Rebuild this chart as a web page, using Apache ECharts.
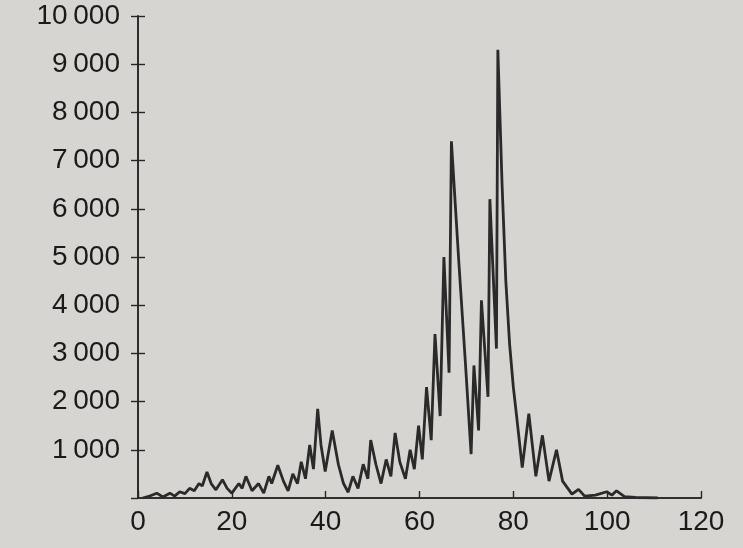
<!DOCTYPE html>
<html lang="en">
<head>
    <meta charset="UTF-8">
    <title>chart</title>
    <style>
        html, body { margin: 0; padding: 0; background: #d7d5d1; }
        div#container { width: 743px; height: 548px; }
    </style>
</head>
<body>
    <div id="container"></div>
    <script src="https://cdn.jsdelivr.net/npm/echarts@6/dist/echarts.min.js"></script>
    <script>
        // x positions and values
        var xs = [
            1, 2.5, 4, 5.3, 6.8, 7.8, 8.9, 10, 11, 12,
            13, 13.7, 14.7, 15.6, 16.6, 18, 19, 20, 21.5, 22.2,
            23, 24.3, 25.7, 26.8, 27.9, 28.5, 29.8, 31, 32, 33,
            34, 34.8, 35.7, 36.6, 37.4, 38.3, 39, 39.9, 41.4, 42.7,
            43.8, 44.8, 45.8, 46.9, 48, 49, 49.6, 50.7, 51.8, 52.9,
            53.9, 54.8, 55.8, 57, 58, 58.9, 59.8, 60.6, 61.5, 62.5,
            63.3, 64.4, 65.2, 66.3, 66.8, 68.4, 69.8, 71, 71.6, 72.6,
            73.2, 74.6, 75, 76.4, 76.7, 77.6, 78.4, 79.2, 80, 80.7,
            81.9, 83.3, 84.8, 86.2, 87.6, 89.2, 90.5, 92.5, 93.9,
            95.2, 97.5, 99.9, 101, 102, 103.7, 106, 110.8
        ];
        var values = [
            0, 40, 100, 20, 100, 40, 130, 90, 200, 150,
            300, 250, 540, 300, 170, 380, 200, 100, 300, 200,
            450, 150, 300, 100, 450, 300, 680, 350, 150, 500,
            300, 750, 400, 1100, 600, 1850, 1100, 550, 1400, 700,
            300, 120, 450, 200, 700, 400, 1200, 700, 300, 800,
            450, 1350, 750, 400, 1000, 600, 1500, 800, 2300, 1200,
            3400, 1700, 5000, 2600, 7400, 4870, 2780, 910, 2750, 1400,
            4100, 2100, 6200, 3100, 9300, 6500, 4500, 3200, 2300, 1700,
            630, 1750, 450, 1300, 350, 1000, 350, 80, 180,
            40, 60, 130, 60, 150, 30, 10, 0
        ];
        var yTicks = [0, 10000, 1000];
        var xTicks = [0, 120, 20];

        var points = xs.map(function (x, i) { return [x, values[i]]; });

        function fmt(v) {
            if (v < 1000) return String(v);
            return Math.floor(v / 1000) + '\u2009000';
        }

        var ink = '#262626';
        var chart = echarts.init(document.getElementById('container'));
        var options = {
            backgroundColor: '#d7d5d1',
            animation: false,
            grid: { left: 138, right: 42, top: 16, bottom: 50 },
            xAxis: [{
                type: 'value',
                min: xTicks[0], max: xTicks[1], interval: xTicks[2],
                axisLine: { show: true, lineStyle: { color: ink, width: 1.6 } },
                axisTick: { show: true, inside: true, length: 7, lineStyle: { color: ink, width: 1.4 } },
                axisLabel: { color: '#1a1a1a', fontSize: 28, fontFamily: 'Liberation Sans', margin: 10 },
                splitLine: { show: false }
            }, {
                type: 'value', position: 'top',
                min: xTicks[0], max: xTicks[1], interval: xTicks[2],
                axisLine: { show: true, lineStyle: { color: ink, width: 1.6 } },
                axisTick: { show: false }, axisLabel: { show: false }, splitLine: { show: false }
            }],
            yAxis: [{
                type: 'value',
                min: yTicks[0], max: yTicks[1], interval: yTicks[2],
                axisLine: { show: true, lineStyle: { color: ink, width: 1.6 } },
                axisTick: { show: true, inside: true, length: 7, lineStyle: { color: ink, width: 1.4 } },
                axisLabel: {
                    color: '#1a1a1a', fontSize: 28, fontFamily: 'Liberation Sans', margin: 18,
                    showMinLabel: false, formatter: fmt
                },
                splitLine: { show: false }
            }, {
                type: 'value', position: 'right',
                min: yTicks[0], max: yTicks[1], interval: yTicks[2],
                axisLine: { show: true, lineStyle: { color: ink, width: 1.6 } },
                axisTick: { show: true, inside: true, length: 7, lineStyle: { color: ink, width: 1.4 } },
                axisLabel: { show: false }, splitLine: { show: false }
            }],
            series: [{
                type: 'line',
                data: points,
                showSymbol: false,
                lineStyle: { color: '#2a2a2a', width: 2.8 }
            }]
        };
        chart.setOption(options);
    </script>
</body>
</html>
